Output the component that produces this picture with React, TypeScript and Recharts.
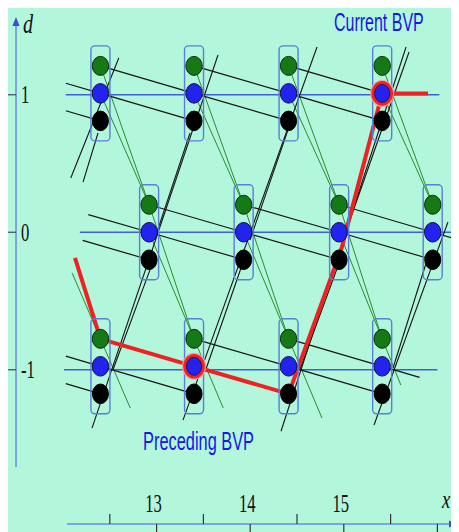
import React from 'react';
import { ComposedChart, XAxis, YAxis, Line, Scatter } from 'recharts';

type P = { x: number; d: number; text?: string };
const pt = (x: number, d: number): P => ({ x, d });

// ---- frame ----
const W = 452;
const H = 526;
const X_DOMAIN: [number, number] = [11.4017, 16.2308];
const Y_DOMAIN: [number, number] = [-2.18, 1.6455];

// ---- trellis columns (x) and rows (d) ----
const outerCols = [12.4, 13.4, 14.41, 15.41]; // rows d = 1 and d = -1
const innerCols = [12.92, 13.93, 14.95, 15.95]; // row d = 0
const rowValues = [1, 0, -1];
const nodeCenters = [1.01, 0, -0.975]; // blue state centre of each row
const stateGap = 0.2; // green above, black below

// horizontal blue guide line of each row [from, to]
const rowLineSpans = [
  [12.03, 16.02],
  [12.18, 16.23],
  [12.01, 16.0],
];
// left starts of the two partial diagonals, right extension of the last one
const rowLeftStarts = [
  [12.03, 12.03],
  [12.27, 12.21],
  [12.03, 12.03],
];
const rowRightExt: (number | null)[] = [null, 16.21, 15.81];

// green transitions: end of the extended lines below the bottom row
const greenExtEnds = [-1.278, -1.278, -1.351, -1.111];
const greenPartialStart = -0.295;

// steep black transitions
const steepLong: [number, number][][] = [
  [[12.083, 0.395], [12.596, 1.267]],
  [[12.31, -1.424], [13.656, 1.289]],
  [[13.282, -1.366], [14.714, 1.347]],
  [[14.329, -1.447], [15.665, 1.347]],
  [[15.323, -1.402], [16.113, 0.075]],
];
const steepShort: [number, number][][] = [
  [[12.214, 0.365], [12.374, 0.722]],
  [[12.534, -1.0], [12.929, -0.274]],
  [[13.517, -1.016], [13.902, -0.26]],
  [[14.53, -1.0], [14.93, -0.26]],
  [[15.526, -0.987], [15.9, -0.18]],
  [[12.994, -0.02], [13.357, 0.722]],
  [[13.998, -0.056], [14.404, 0.745]],
  [[14.991, -0.056], [15.697, 1.311]],
];

// red path extras
const redStart = pt(12.128, -0.187);
const redKink = pt(14.975, -0.12);
const redEndX = 15.9;

// ---- axes ----
const yTicks = [-1, 0, 1];
const yTickLabels = ['-1', '0', '1'];
const xMajorTicks = [13, 14, 15, 16];
const xMinorTicks = [12.5, 13.5, 14.5, 15.5];
const xTickLabels = ['13', '14', '15'];
const yAxisX = 11.498;
const yAxisFrom = -1.707;
const yAxisTo = 1.5655;
const xAxisD = -2.1218;
const xAxisFrom = 12.043;
const xAxisTo = 16.22;
const yLabelX = 11.551;
const xLabelD = -2.0345;

const annotations: P[] = [
  { x: 14.895, d: 1.467, text: 'Current BVP' },
  { x: 12.855, d: -1.5836, text: 'Preceding BVP' },
];

// ---- colours ----
const BG = '#b2f6dc';
const C_GREEN = '#157a15';
const C_BLUE = '#2323ee';
const C_BOX = '#5a7fd6';
const C_ROWLINE = '#3f5fd8';
const C_GLINE = '#2a8d2a';
const C_KLINE = '#151515';
const C_RED = '#ee2222';

// ---- derived geometry (from the data above) ----
const rowCols = [outerCols, innerCols, outerCols];
const nodes: P[] = rowCols.flatMap((cols, r) => cols.map((x) => pt(x, nodeCenters[r])));
const greens = nodes.map((n) => pt(n.x, n.d + stateGap));
const blacks = nodes.map((n) => pt(n.x, n.d - stateGap));

const G = (r: number, i: number) => pt(rowCols[r][i], nodeCenters[r] + stateGap);
const B = (r: number, i: number) => pt(rowCols[r][i], nodeCenters[r]);
const K = (r: number, i: number) => pt(rowCols[r][i], nodeCenters[r] - stateGap);

const rowLines: P[][] = rowValues.map((v, r) => [pt(rowLineSpans[r][0], v), pt(rowLineSpans[r][1], v)]);

const rowDiagonals: P[][] = [];
rowCols.forEach((cols, r) => {
  const c = nodeCenters[r];
  const k = -stateGap / (cols[1] - cols[0]);
  const n = cols.length;
  const [la, lb] = rowLeftStarts[r];
  rowDiagonals.push([pt(la, c + k * (la - cols[0])), B(r, 0), K(r, 1)]);
  rowDiagonals.push([pt(lb, c - stateGap + k * (lb - cols[0])), K(r, 0)]);
  for (let i = 0; i + 2 < n; i++) rowDiagonals.push([G(r, i), B(r, i + 1), K(r, i + 2)]);
  const last = [G(r, n - 2), B(r, n - 1)];
  const ext = rowRightExt[r];
  if (ext !== null) last.push(pt(ext, c + k * (ext - cols[n - 1])));
  rowDiagonals.push(last);
});

const extendTo = (a: P, b: P, dEnd: number) => pt(a.x + ((dEnd - a.d) * (b.x - a.x)) / (b.d - a.d), dEnd);

const greenLines: P[][] = [];
for (let i = 0; i < 4; i++) {
  greenLines.push([G(0, i), G(1, i)]);
  greenLines.push([B(0, i), G(1, i)]);
}
for (let i = 0; i < 3; i++) {
  greenLines.push([G(1, i), G(2, i + 1)]);
  greenLines.push([B(1, i), G(2, i + 1), extendTo(B(1, i), G(2, i + 1), greenExtEnds[i + 1])]);
}
{
  const vx = innerCols[0] - (innerCols[1] - innerCols[0]);
  const vb = pt(vx, nodeCenters[1]);
  const g0 = G(2, 0);
  greenLines.push([extendTo(vb, g0, greenPartialStart), g0, extendTo(vb, g0, greenExtEnds[0])]);
}

const steepLines: P[][] = [...steepLong, ...steepShort].map((seg) => seg.map(([x, d]) => pt(x, d)));

const redPath: P[] = [redStart, G(2, 0), B(2, 1), K(2, 2), redKink, B(0, 3), pt(redEndX, nodeCenters[0])];
const highlighted: P[] = [B(2, 1), B(0, 3)];

const yLabelPts = yTicks.map((v, i) => ({ x: yLabelX, d: v, text: yTickLabels[i] }));
const yTickPts = yTicks.map((v) => pt(yAxisX, v));
const xMajorPts = xMajorTicks.map((v) => pt(v, xAxisD));
const xMinorPts = xMinorTicks.map((v) => pt(v, xAxisD));
const xLabelPts = xTickLabels.map((t) => ({ x: Number(t), d: xLabelD, text: t }));

const lineProps = { dataKey: 'd', dot: false, activeDot: false, isAnimationActive: false, legendType: 'none' as const };

export default function App() {
  return (
    <div style={{ width: W, height: H, marginTop: -2, marginLeft: -1, background: BG }}>
      <ComposedChart width={W} height={H} margin={{ top: 0, right: 0, bottom: 0, left: 0 }}>
        <XAxis type="number" dataKey="x" domain={X_DOMAIN} allowDataOverflow hide />
        <YAxis type="number" dataKey="d" domain={Y_DOMAIN} allowDataOverflow hide />

        {/* node boxes */}
        <Scatter
          data={nodes}
          isAnimationActive={false}
          shape={(p: any) => (
            <rect x={p.cx - 9.5} y={p.cy - 47.5} width={19} height={95} rx={4} fill="none" stroke={C_BOX} strokeWidth={1.4} />
          )}
        />
        <Scatter
          data={greens}
          isAnimationActive={false}
          shape={(p: any) => <ellipse cx={p.cx} cy={p.cy} rx={8.2} ry={9.5} fill={C_GREEN} stroke="#0b300b" strokeWidth={1} />}
        />
        <Scatter
          data={nodes}
          isAnimationActive={false}
          shape={(p: any) => <ellipse cx={p.cx} cy={p.cy} rx={8.2} ry={9.8} fill={C_BLUE} stroke="#10104a" strokeWidth={1} />}
        />
        <Scatter
          data={blacks}
          isAnimationActive={false}
          shape={(p: any) => <ellipse cx={p.cx} cy={p.cy} rx={8} ry={9.8} fill="#000" stroke="#000" strokeWidth={1} />}
        />

        {rowLines.map((pts, i) => (
          <Line key={'r' + i} {...lineProps} data={pts} stroke={C_ROWLINE} strokeWidth={1.3} />
        ))}
        {greenLines.map((pts, i) => (
          <Line key={'g' + i} {...lineProps} data={pts} stroke={C_GLINE} strokeWidth={1} />
        ))}
        {rowDiagonals.map((pts, i) => (
          <Line key={'k' + i} {...lineProps} data={pts} stroke={C_KLINE} strokeWidth={1.2} />
        ))}
        {steepLines.map((pts, i) => (
          <Line key={'s' + i} {...lineProps} data={pts} stroke={C_KLINE} strokeWidth={1.1} />
        ))}

        <Line {...lineProps} data={redPath} stroke={C_RED} strokeWidth={4} strokeLinejoin="round" />
        <Line
          {...lineProps}
          data={highlighted}
          stroke="none"
          dot={(p: any) => (
            <g key={'h' + p.index}>
              <ellipse cx={p.cx} cy={p.cy} rx={12} ry={13.5} fill="#f8a0a0" />
              <ellipse cx={p.cx} cy={p.cy} rx={10.8} ry={12.3} fill={C_RED} />
              <ellipse cx={p.cx} cy={p.cy} rx={7.6} ry={9} fill={C_BLUE} stroke="#10104a" strokeWidth={0.8} />
            </g>
          )}
        />

        {/* axes */}
        <Line {...lineProps} data={[pt(yAxisX, yAxisFrom), pt(yAxisX, yAxisTo - 0.05)]} stroke="#6a8be0" strokeWidth={1.5} />
        <Line {...lineProps} data={[pt(xAxisFrom, xAxisD), pt(xAxisTo - 0.08, xAxisD)]} stroke="#6a8be0" strokeWidth={1.5} />
        <Scatter
          data={[pt(yAxisX, yAxisTo)]}
          isAnimationActive={false}
          shape={(p: any) => (
            <polygon points={`${p.cx},${p.cy} ${p.cx - 3.6},${p.cy + 9} ${p.cx + 3.6},${p.cy + 9}`} fill="#3a4fd6" />
          )}
        />
        <Scatter
          data={[pt(xAxisTo, xAxisD)]}
          isAnimationActive={false}
          shape={(p: any) => (
            <polygon points={`${p.cx},${p.cy} ${p.cx - 9},${p.cy - 3.6} ${p.cx - 9},${p.cy + 3.6}`} fill="#3a4fd6" />
          )}
        />
        <Scatter
          data={yTickPts}
          isAnimationActive={false}
          shape={(p: any) => <line x1={p.cx - 9} y1={p.cy} x2={p.cx} y2={p.cy} stroke="#4a5070" strokeWidth={1.3} />}
        />
        <Scatter
          data={xMajorPts}
          isAnimationActive={false}
          shape={(p: any) => <line x1={p.cx} y1={p.cy} x2={p.cx} y2={p.cy + 10} stroke="#333" strokeWidth={1.2} />}
        />
        <Scatter
          data={xMinorPts}
          isAnimationActive={false}
          shape={(p: any) => <line x1={p.cx} y1={p.cy - 10} x2={p.cx} y2={p.cy} stroke="#333" strokeWidth={1.2} />}
        />

        {/* tick labels */}
        <Scatter
          data={yLabelPts}
          isAnimationActive={false}
          shape={(p: any) => (
            <text
              transform={`translate(${p.cx},${p.cy + 8.5}) scale(0.64,1)`}
              fontFamily="'Liberation Serif', 'DejaVu Serif', serif"
              fontSize={26}
              fill="#111"
            >
              {p.payload.text}
            </text>
          )}
        />
        <Scatter
          data={xLabelPts}
          isAnimationActive={false}
          shape={(p: any) => (
            <text
              transform={`translate(${p.cx - 3},${p.cy}) scale(0.64,1)`}
              textAnchor="middle"
              fontFamily="'Liberation Serif', 'DejaVu Serif', serif"
              fontSize={26}
              fill="#111"
            >
              {p.payload.text}
            </text>
          )}
        />
        <Scatter
          data={[{ x: 11.5727, d: 1.449, text: 'd' }, { x: 16.049, d: -2.0055, text: 'x' }]}
          isAnimationActive={false}
          shape={(p: any) => (
            <text
              transform={`translate(${p.cx},${p.cy}) scale(0.72,1)`}
              fontFamily="'Liberation Serif', 'DejaVu Serif', serif"
              fontStyle="italic"
              fontSize={p.payload.text === 'd' ? 28 : 26}
              fill="#111"
            >
              {p.payload.text}
            </text>
          )}
        />
        <Scatter
          data={annotations}
          isAnimationActive={false}
          shape={(p: any) => (
            <text
              transform={`translate(${p.cx},${p.cy}) scale(${p.payload.text === 'Current BVP' ? 0.64 : 0.655},1)`}
              fontFamily="'Liberation Sans', Arial, sans-serif"
              fontSize={25}
              fill="#1717e6"
            >
              {p.payload.text}
            </text>
          )}
        />
      </ComposedChart>
    </div>
  );
}
